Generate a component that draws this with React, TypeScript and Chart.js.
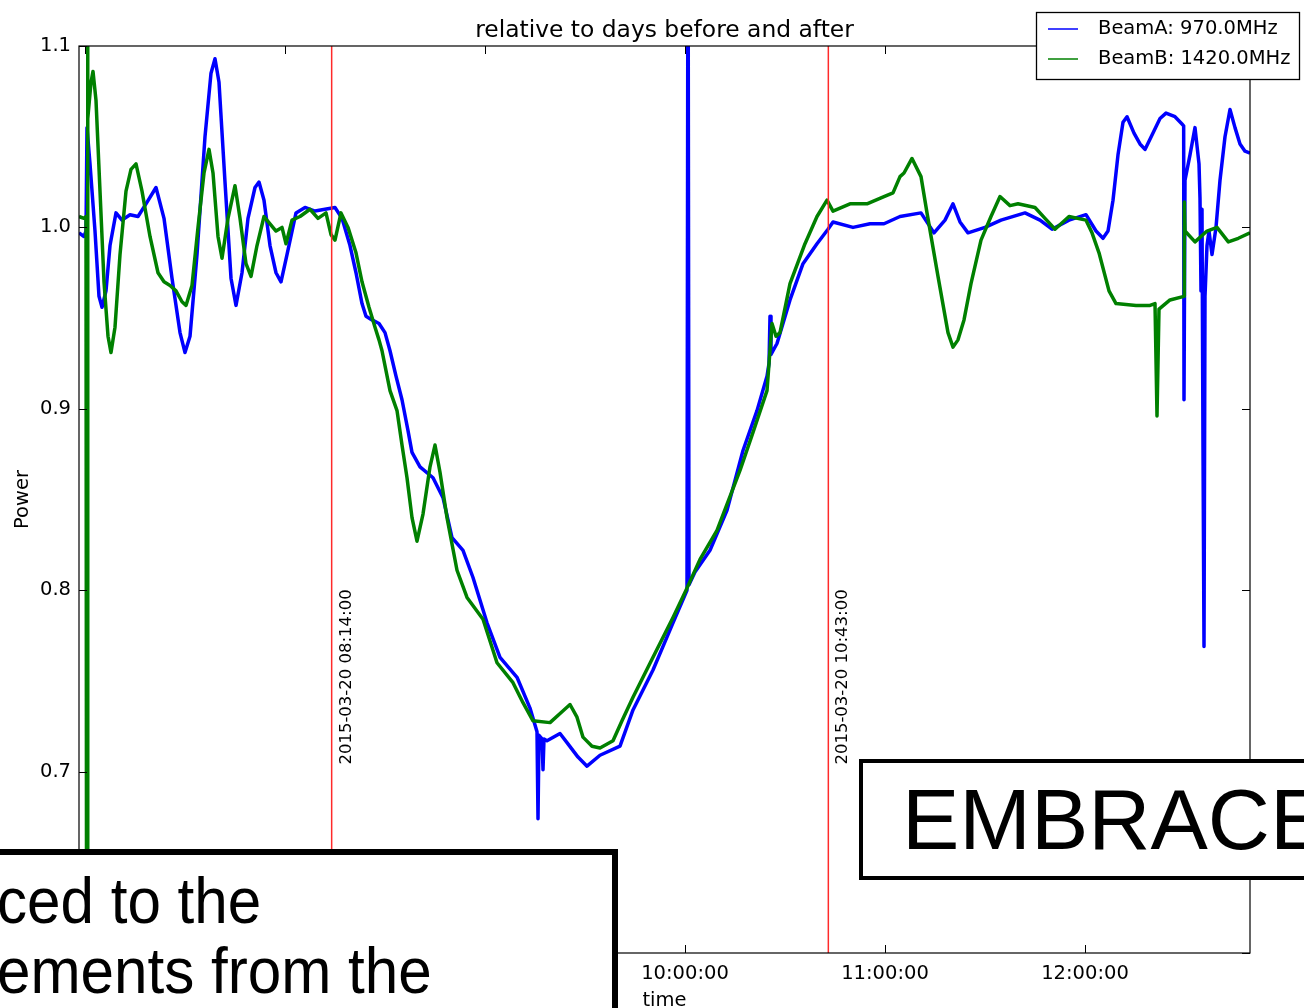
import React, { useEffect, useRef } from 'react';
import { Chart, registerables } from 'chart.js';

Chart.register(...registerables);

// ---- data (time in minutes after midnight, 2015-03-20) ----
const beamATimes = [
  418.2, 419.7, 420.3, 420.6, 421.5, 423.0, 424.2, 425.1, 426.3, 427.5,
  429.3, 431.1, 433.5, 435.9, 438.3, 441.3, 443.7, 446.1, 448.5, 450.0,
  451.5, 453.6, 456.0, 457.8, 459.0, 460.2, 462.0, 463.8, 465.3, 467.1,
  468.9, 471.0, 472.2, 473.7, 475.5, 477.3, 478.8, 480.6, 483.3, 486.0,
  489.0, 492.0, 495.0, 497.1, 499.5, 501.3, 503.1, 504.3, 506.1, 508.2,
  510.0, 511.5, 513.3, 515.1, 516.9, 518.1, 520.5, 524.4, 527.4, 530.1,
  533.4, 536.4, 540.6, 544.5, 549.6, 553.5, 555.6, 555.9, 556.2, 557.1,
  557.4, 557.7, 558.6, 562.5, 564.6, 567.9, 570.6, 574.5, 580.5, 584.4,
  590.4, 596.4, 600.6, 600.9, 601.2, 603.0, 607.5, 612.6, 617.4, 621.6,
  624.6, 625.2, 625.5, 625.8, 627.6, 631.5, 635.4, 639.6, 642.9, 644.4,
  650.4, 655.5, 659.7, 664.5, 670.8, 674.7, 678.0, 680.4, 682.5, 684.9,
  690.0, 694.8, 702.0, 706.5, 710.1, 715.2, 720.3, 723.3, 725.4, 726.9,
  728.4, 729.9, 731.4, 732.6, 734.7, 736.5, 738.0, 740.4, 742.5, 744.3,
  747.0, 749.1, 749.6, 749.7, 750.0, 751.5, 753.0, 754.2, 754.5, 754.8,
  755.1, 755.4, 755.7, 756.0, 756.6, 757.2, 758.1, 759.3, 760.5, 762.0,
  763.5, 765.0, 766.5, 768.0, 769.5,
];
const beamAValues = [
  0.997, 0.995, 0.998, 1.055, 1.035, 0.998, 0.962, 0.956, 0.965, 0.990,
  1.008, 1.004, 1.007, 1.006, 1.013, 1.022, 1.005, 0.972, 0.942, 0.931,
  0.940, 0.985, 1.050, 1.085, 1.093, 1.080, 1.025, 0.972, 0.957, 0.975,
  1.005, 1.022, 1.025, 1.015, 0.990, 0.975, 0.970, 0.985, 1.008, 1.011,
  1.009, 1.010, 1.011, 1.005, 0.990, 0.975, 0.958, 0.951, 0.949, 0.947,
  0.942, 0.932, 0.918, 0.905, 0.888, 0.876, 0.868, 0.862, 0.851, 0.829,
  0.822, 0.807, 0.782, 0.763, 0.752, 0.735, 0.722, 0.674, 0.720, 0.718,
  0.701, 0.718, 0.717, 0.721, 0.716, 0.708, 0.703, 0.709, 0.714, 0.734,
  0.756, 0.782, 0.800, 1.200, 0.803, 0.810, 0.822, 0.844, 0.877, 0.899,
  0.918, 0.925, 0.951, 0.930, 0.936, 0.960, 0.980, 0.991, 0.999, 1.003,
  1.000, 1.002, 1.002, 1.006, 1.008, 0.997, 1.004, 1.013, 1.003, 0.997,
  1.000, 1.004, 1.008, 1.004, 0.999, 1.004, 1.007, 0.998, 0.994, 0.998,
  1.015, 1.040, 1.058, 1.061, 1.052, 1.046, 1.043, 1.052, 1.060, 1.063,
  1.061, 1.057, 1.056, 0.905, 1.026, 1.040, 1.055, 1.035, 1.016, 0.965,
  1.010, 0.879, 0.769, 0.962, 0.990, 0.998, 0.985, 1.000, 1.026, 1.050,
  1.065, 1.055, 1.046, 1.042, 1.041,
];

const beamBTimes = [
  418.2, 419.7, 420.3, 420.6, 420.75, 420.9, 421.8, 422.4, 423.3, 424.5,
  425.7, 426.9, 427.8, 429.0, 430.5, 432.3, 433.8, 435.3, 437.1, 439.5,
  441.9, 443.7, 445.5, 447.3, 449.1, 450.3, 452.1, 453.9, 455.7, 457.2,
  458.4, 459.9, 461.1, 462.9, 465.0, 466.5, 468.3, 469.8, 471.6, 473.7,
  475.5, 477.3, 479.1, 480.3, 482.1, 484.5, 487.5, 489.9, 492.3, 493.8,
  495.0, 496.8, 498.9, 501.3, 503.1, 505.2, 507.0, 508.2, 509.1, 511.5,
  513.6, 515.1, 516.6, 518.1, 519.6, 521.4, 523.5, 525.0, 526.5, 528.6,
  531.6, 534.6, 539.4, 543.6, 548.4, 551.4, 554.4, 559.5, 563.1, 565.5,
  567.6, 569.4, 572.1, 574.5, 578.4, 581.1, 584.4, 590.4, 596.4, 600.3,
  604.5, 609.6, 616.5, 620.4, 624.6, 626.1, 627.3, 628.5, 631.5, 636.0,
  639.6, 642.6, 644.4, 649.5, 654.6, 659.7, 662.4, 664.5, 665.7, 668.1,
  670.8, 672.6, 675.9, 678.9, 680.4, 681.9, 683.7, 685.8, 688.8, 691.8,
  694.5, 697.5, 699.9, 705.0, 708.0, 711.0, 715.2, 720.3, 722.1, 724.2,
  727.2, 729.3, 735.3, 739.5, 741.0, 741.6, 742.2, 745.5, 749.7, 749.8,
  750.0, 753.0, 756.6, 759.6, 763.0, 766.0, 769.5,
];
const beamBValues = [
  1.006, 1.005, 1.006, 0.300, 1.300, 1.060, 1.080, 1.086, 1.070, 1.020,
  0.970, 0.940, 0.931, 0.945, 0.985, 1.020, 1.032, 1.035, 1.020, 0.995,
  0.975, 0.970, 0.968, 0.965, 0.959, 0.957, 0.968, 1.000, 1.030, 1.043,
  1.030, 0.995, 0.983, 1.005, 1.023, 1.005, 0.980, 0.973, 0.990, 1.006,
  1.002, 0.998, 1.000, 0.991, 1.004, 1.006, 1.010, 1.005, 1.008, 0.996,
  0.993, 1.008, 1.000, 0.986, 0.970, 0.956, 0.945, 0.938, 0.932, 0.910,
  0.899, 0.880, 0.862, 0.840, 0.827, 0.842, 0.868, 0.880, 0.865, 0.840,
  0.811, 0.796, 0.784, 0.760, 0.749, 0.738, 0.728, 0.727, 0.733, 0.737,
  0.730, 0.719, 0.714, 0.713, 0.717, 0.728, 0.741, 0.763, 0.785, 0.800,
  0.817, 0.833, 0.866, 0.887, 0.910, 0.947, 0.940, 0.942, 0.969, 0.991,
  1.006, 1.015, 1.009, 1.013, 1.013, 1.017, 1.019, 1.028, 1.030, 1.038,
  1.028, 1.008, 0.973, 0.942, 0.934, 0.938, 0.949, 0.969, 0.993, 1.006,
  1.017, 1.012, 1.013, 1.011, 1.005, 0.999, 1.006, 1.004, 0.997, 0.986,
  0.965, 0.958, 0.957, 0.957, 0.958, 0.896, 0.955, 0.960, 0.962, 1.014,
  0.998, 0.992, 0.998, 1.000, 0.992, 0.994, 0.997,
];

const seriesNames = ['BeamA: 970.0MHz', 'BeamB: 1420.0MHz'];
const seriesColors = ['#0000ff', '#008000'];

const markerTimes = [494, 643];
const markerLabels = ['2015-03-20 08:14:00', '2015-03-20 10:43:00'];
const markerLabelValue = 0.7;

const xMin = 418.2;
const xMax = 769.5;
const xTicks = [420, 480, 540, 600, 660, 720];
const xTickLabels = ['07:00:00', '08:00:00', '09:00:00', '10:00:00', '11:00:00', '12:00:00'];
const yMin = 0.6;
const yMax = 1.1;
const yTicks = [0.6, 0.7, 0.8, 0.9, 1.0, 1.1];
const yTickLabels = ['0.6', '0.7', '0.8', '0.9', '1.0', '1.1'];

const titleText = 'relative to days before and after';
const xLabel = 'time';
const yLabel = 'Power';

const FONT = '"DejaVu Sans", "Liberation Sans", sans-serif';

const decorPlugin = {
  id: 'mplDecor',
  afterDatasetsDraw(chart: any) {
    const { ctx, chartArea: a, scales } = chart;
    const xs = scales.x;
    const ys = scales.y;
    ctx.save();
    ctx.fillStyle = '#000';

    // marker labels (rotated)
    ctx.font = `16.5px ${FONT}`;
    ctx.textAlign = 'left';
    ctx.textBaseline = 'alphabetic';
    markerTimes.forEach((t, i) => {
      const px = xs.getPixelForValue(t);
      const py = ys.getPixelForValue(markerLabelValue);
      ctx.save();
      ctx.translate(px + 19, py - 7);
      ctx.rotate(-Math.PI / 2);
      ctx.fillText(markerLabels[i], 0, 0);
      ctx.restore();
    });

    // frame
    ctx.strokeStyle = '#000';
    ctx.lineWidth = 1.2;
    ctx.strokeRect(a.left, a.top, a.right - a.left, a.bottom - a.top);

    // inward ticks
    ctx.lineWidth = 1;
    ctx.beginPath();
    xTicks.forEach((v) => {
      const p = Math.round(xs.getPixelForValue(v)) + 0.5;
      ctx.moveTo(p, a.bottom);
      ctx.lineTo(p, a.bottom - 8);
      ctx.moveTo(p, a.top);
      ctx.lineTo(p, a.top + 8);
    });
    yTicks.forEach((v) => {
      const p = Math.round(ys.getPixelForValue(v)) + 0.5;
      ctx.moveTo(a.left, p);
      ctx.lineTo(a.left + 8, p);
      ctx.moveTo(a.right, p);
      ctx.lineTo(a.right - 8, p);
    });
    ctx.stroke();

    // tick labels
    ctx.font = `19.5px ${FONT}`;
    ctx.textAlign = 'center';
    ctx.textBaseline = 'alphabetic';
    xTicks.forEach((v, i) => {
      ctx.fillText(xTickLabels[i], xs.getPixelForValue(v), a.bottom + 26);
    });
    ctx.textAlign = 'right';
    ctx.textBaseline = 'middle';
    yTicks.forEach((v, i) => {
      ctx.fillText(yTickLabels[i], a.left - 8, ys.getPixelForValue(v));
    });

    // axis labels
    ctx.textAlign = 'center';
    ctx.textBaseline = 'alphabetic';
    ctx.fillText(xLabel, (a.left + a.right) / 2, a.bottom + 53);
    ctx.save();
    ctx.translate(28, (a.top + a.bottom) / 2);
    ctx.rotate(-Math.PI / 2);
    ctx.fillText(yLabel, 0, 0);
    ctx.restore();

    // title
    ctx.font = `23.4px ${FONT}`;
    ctx.fillText(titleText, (a.left + a.right) / 2, 37);

    // legend
    const lx = 1036.5, ly = 12.5, lw = 263, lh = 67;
    ctx.fillStyle = '#fff';
    ctx.fillRect(lx, ly, lw, lh);
    ctx.strokeStyle = '#000';
    ctx.lineWidth = 1.3;
    ctx.strokeRect(lx, ly, lw, lh);
    ctx.font = `19.5px ${FONT}`;
    ctx.textAlign = 'left';
    ctx.textBaseline = 'middle';
    seriesNames.forEach((name, i) => {
      const yy = 29 + i * 30;
      ctx.strokeStyle = seriesColors[i];
      ctx.lineWidth = 1.5;
      ctx.beginPath();
      ctx.moveTo(1048, yy);
      ctx.lineTo(1078, yy);
      ctx.stroke();
      ctx.fillStyle = '#000';
      ctx.fillText(name, 1098, yy);
    });

    ctx.restore();
  },
};

export default function App() {
  const ref = useRef<HTMLCanvasElement | null>(null);

  useEffect(() => {
    document.body.style.margin = '0';
    const canvas = ref.current;
    if (!canvas) return;
    const toPoints = (ts: number[], vs: number[]) => ts.map((t, i) => ({ x: t, y: vs[i] }));
    const markerDatasets = markerTimes.map((t) => ({
      label: 'marker',
      data: [{ x: t, y: yMin }, { x: t, y: yMax }],
      borderColor: '#ff2a2a',
      borderWidth: 1.5,
      pointRadius: 0,
      order: 0,
      clip: 0,
    }));
    const chart = new Chart(canvas, {
      type: 'line',
      data: {
        datasets: [
          {
            label: seriesNames[0],
            data: toPoints(beamATimes, beamAValues),
            borderColor: seriesColors[0],
            borderWidth: 3.5,
            pointRadius: 0,
            tension: 0,
            borderJoinStyle: 'round',
            order: 2,
            clip: 0,
          },
          {
            label: seriesNames[1],
            data: toPoints(beamBTimes, beamBValues),
            borderColor: seriesColors[1],
            borderWidth: 3.5,
            pointRadius: 0,
            tension: 0,
            borderJoinStyle: 'round',
            order: 1,
            clip: 0,
          },
          ...markerDatasets,
        ] as any,
      },
      options: {
        responsive: false,
        animation: false,
        devicePixelRatio: 1,
        events: [],
        layout: { padding: { left: 0, top: 46, right: 54, bottom: 0 } },
        plugins: { legend: { display: false }, tooltip: { enabled: false }, title: { display: false } },
        scales: {
          x: {
            type: 'linear',
            min: xMin,
            max: xMax,
            grid: { display: false, drawTicks: false },
            border: { display: false },
            ticks: { display: false },
            afterFit: (s: any) => { s.height = 55; },
          },
          y: {
            type: 'linear',
            min: yMin,
            max: yMax,
            grid: { display: false, drawTicks: false },
            border: { display: false },
            ticks: { display: false },
            afterFit: (s: any) => { s.width = 79; },
          },
        },
      } as any,
      plugins: [decorPlugin],
    });
    return () => chart.destroy();
  }, []);

  return (
    <div style={{ position: 'absolute', left: 0, top: 0, width: 1304, height: 1008, overflow: 'hidden', background: '#fff' }}>
      <canvas ref={ref} width={1304} height={1008} style={{ position: 'absolute', left: 0, top: 0, width: 1304, height: 1008 }} />
      <div style={{ position: 'absolute', left: -20, top: 849, width: 638, height: 300, border: '6px solid #000', background: '#fff', boxSizing: 'border-box' }} />
      <div
        style={{
          position: 'absolute', left: -3, top: 866, font: '64px "Liberation Sans", Arial, sans-serif',
          lineHeight: '70px', transform: 'scaleX(0.94)', transformOrigin: '0 0', whiteSpace: 'pre', color: '#000',
        }}
      >
        {'ced to the\nements from the'}
      </div>
      <div style={{ position: 'absolute', left: 859, top: 759, width: 600, height: 121, border: '4px solid #000', background: '#fff', boxSizing: 'border-box' }} />
      <div
        style={{
          position: 'absolute', left: 902, top: 776, font: '86px "Liberation Sans", Arial, sans-serif',
          lineHeight: '86px', whiteSpace: 'pre', color: '#000',
        }}
      >
        EMBRACE
      </div>
    </div>
  );
}
